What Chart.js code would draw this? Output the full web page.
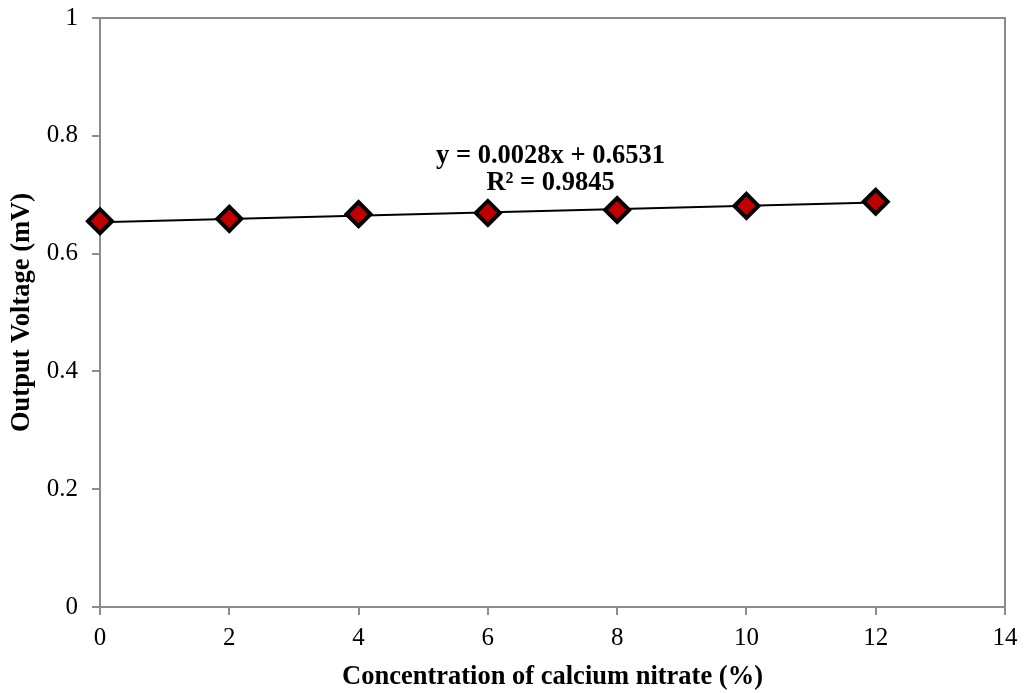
<!DOCTYPE html>
<html>
<head>
<meta charset="utf-8">
<script src="https://cdn.jsdelivr.net/npm/chart.js@4"></script>
<style>
  html, body { margin: 0; padding: 0; background: #fff; }
  #wrap { width: 1024px; height: 693px; }
</style>
</head>
<body>
<div id="wrap"><canvas id="chart" width="1024" height="693"></canvas></div>
<script>
// Concentration of calcium nitrate (%) vs output voltage (mV)
const concentration = [0, 2, 4, 6, 8, 10, 12];
const voltage = [0.655, 0.659, 0.667, 0.669, 0.674, 0.681, 0.688];

// linear trendline end points (y = 0.0028x + 0.6531)
const trendX = [0, 12];
const trendY = [0.6531, 0.6867];

const equationLines = ["y = 0.0028x + 0.6531", "R\u00b2 = 0.9845"];

const serif = "'Liberation Serif', 'Times New Roman', serif";
const axisGray = "#8c8c8c";

// frame around plot area + equation text
const framePlugin = {
  id: "frame",
  afterDatasetsDraw(chart) {
    const { ctx, chartArea, scales } = chart;
    ctx.save();
    ctx.strokeStyle = axisGray;
    ctx.lineWidth = 2;
    ctx.beginPath();
    ctx.moveTo(chartArea.left, chartArea.top);
    ctx.lineTo(chartArea.right, chartArea.top);
    ctx.lineTo(chartArea.right, chartArea.bottom);
    ctx.stroke();

    ctx.fillStyle = "#000";
    ctx.font = "bold 26.5px " + serif;
    ctx.textAlign = "center";
    ctx.textBaseline = "middle";
    const cx = scales.x.getPixelForValue(6.97);
    ctx.fillText(equationLines[0], cx, scales.y.getPixelForValue(0.765));
    ctx.fillText(equationLines[1], cx, scales.y.getPixelForValue(0.72));
    ctx.restore();
  }
};

new Chart(document.getElementById("chart"), {
  type: "scatter",
  data: {
    datasets: [
      {
        type: "line",
        data: trendX.map((x, i) => ({ x: x, y: trendY[i] })),
        borderColor: "#000",
        borderWidth: 2,
        pointRadius: 0,
        fill: false,
        clip: false,
        order: 2
      },
      {
        data: concentration.map((x, i) => ({ x: x, y: voltage[i] })),
        pointStyle: "rectRot",
        pointRadius: 12,
        pointBackgroundColor: "#c00000",
        pointBorderColor: "#000",
        pointBorderWidth: 4,
        showLine: false,
        clip: false,
        order: 1
      }
    ]
  },
  options: {
    responsive: false,
    animation: false,
    layout: { padding: { top: 18, right: 19, left: 0, bottom: 0 } },
    plugins: {
      legend: { display: false },
      tooltip: { enabled: false }
    },
    scales: {
      x: {
        type: "linear",
        min: 0,
        max: 14,
        ticks: {
          stepSize: 2,
          color: "#000",
          font: { family: serif, size: 25 },
          padding: 8
        },
        grid: { drawOnChartArea: false, drawTicks: true, tickLength: 8, color: axisGray, lineWidth: 2 },
        border: { display: true, color: axisGray, width: 2 },
        title: {
          display: true,
          text: "Concentration of calcium nitrate (%)",
          color: "#000",
          font: { family: serif, size: 26.5, weight: "bold" },
          padding: { top: 4, bottom: 0 }
        },
        afterFit(scale) {
          scale.height = 86;
          scale.paddingRight = 0;
        }
      },
      y: {
        min: 0,
        max: 1,
        ticks: {
          stepSize: 0.2,
          color: "#000",
          font: { family: serif, size: 25 },
          padding: 14,
          callback: (v) => String(Math.round(v * 10) / 10)
        },
        grid: { drawOnChartArea: false, drawTicks: true, tickLength: 8, color: axisGray, lineWidth: 2 },
        border: { display: true, color: axisGray, width: 2 },
        title: {
          display: true,
          text: "Output Voltage (mV)",
          color: "#000",
          font: { family: serif, size: 26.5, weight: "bold" },
          padding: { top: 6, bottom: 0 }
        },
        afterFit(scale) {
          scale.width = 100;
          scale.paddingTop = 0;
          scale.paddingBottom = 0;
        }
      }
    }
  },
  plugins: [framePlugin]
});
</script>
</body>
</html>
